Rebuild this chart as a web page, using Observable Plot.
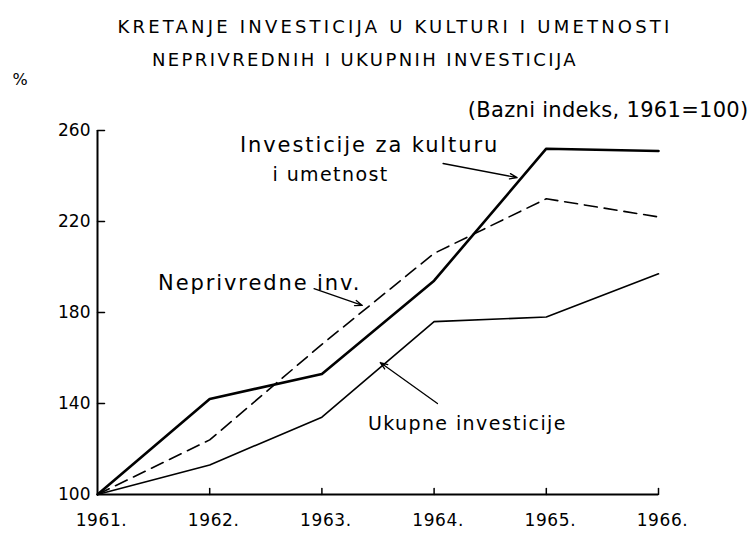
<!DOCTYPE html>
<html>
<head>
<meta charset="utf-8">
<script src="https://cdn.jsdelivr.net/npm/d3@7"></script>
<script src="https://cdn.jsdelivr.net/npm/@observablehq/plot@0.6"></script>
<style>
  html, body { margin: 0; padding: 0; background: #fff; }
  #chart svg { display: block; }
</style>
</head>
<body>
<div id="chart"></div>
<script>
// ---- data ----
const years = [1961, 1962, 1963, 1964, 1965, 1966];
const kultura = [100, 142, 153, 194, 252, 251];       // Investicije za kulturu i umetnost
const neprivredne = [100, 124, 166, 206, 230, 222];   // Neprivredne investicije
const ukupne = [100, 113, 134, 176, 178, 197];        // Ukupne investicije
const yTicks = [100, 140, 180, 220, 260];
const xTickLabels = ["1961.", "1962.", "1963.", "1964.", "1965.", "1966."];

const titleLine1 = "KRETANJE INVESTICIJA U KULTURI I UMETNOSTI";
const titleLine2 = "NEPRIVREDNIH I UKUPNIH INVESTICIJA";
const unitLabel = "%";
const baseNote = "(Bazni indeks, 1961=100)";

const labelTexts = ["Investicije za kulturu", "i umetnost", "Neprivredne inv.", "Ukupne investicije"];
const labelX = [1962.27, 1962.56, 1961.54, 1963.41];
const labelY = [253.5, 240.5, 192.7, 131.2];

const arrowX1 = [1964.08, 1962.93, 1964.03];
const arrowY1 = [245.5, 190.5, 140];
const arrowX2 = [1964.74, 1963.36, 1963.52];
const arrowY2 = [239.3, 183.1, 158];

// ---- tables ----
const rows = (vals) => years.map((yr, i) => ({year: yr, value: vals[i]}));
const labels = labelTexts.map((t, i) => ({text: t, x: labelX[i], y: labelY[i]}));
const arrows = arrowX1.map((x, i) => ({x1: x, y1: arrowY1[i], x2: arrowX2[i], y2: arrowY2[i]}));

const tickShape = { draw(context, l) { context.moveTo(0, 0); context.lineTo(0, -l); } };
const font = "'DejaVu Sans', sans-serif";

const chart = Plot.plot({
  width: 756,
  height: 535,
  marginLeft: 97,
  marginRight: 98,
  marginTop: 130,
  marginBottom: 41,
  style: { fontFamily: font, background: "#fff", color: "#000" },
  x: { type: "linear", domain: [1961, 1966] },
  y: { domain: [100, 260] },
  marks: [
    // axes lines
    Plot.ruleY([100], { stroke: "#000", strokeWidth: 2 }),
    Plot.ruleX([1961], { y1: 100, y2: 260, stroke: "#000", strokeWidth: 2 }),
    // inward ticks
    Plot.vector(years.slice(1), { x: d => d, y: 100, length: 6, anchor: "start", rotate: 0, shape: tickShape, stroke: "#000", strokeWidth: 1.5 }),
    Plot.vector(yTicks.slice(1), { x: 1961, y: d => d, length: 7, anchor: "start", rotate: 90, shape: tickShape, stroke: "#000", strokeWidth: 1.5 }),
    // axis labels
    Plot.axisY({ ticks: yTicks, tickSize: 0, tickPadding: 7, fontSize: 17, label: null }),
    Plot.axisX({ ticks: years, tickSize: 0, tickPadding: 19, fontSize: 17, dx: 4, label: null,
      tickFormat: (d) => xTickLabels[years.indexOf(d)] }),
    // series
    Plot.line(rows(ukupne), { x: "year", y: "value", stroke: "#000", strokeWidth: 1.6 }),
    Plot.line(rows(neprivredne), { x: "year", y: "value", stroke: "#000", strokeWidth: 1.6, strokeDasharray: "13,7" }),
    Plot.line(rows(kultura), { x: "year", y: "value", stroke: "#000", strokeWidth: 2.6 }),
    // annotations
    Plot.text(labels, { filter: (d, i) => i === 0 || i === 2, x: "x", y: "y", text: "text", textAnchor: "start", fontSize: 21, fill: "#000" }),
    Plot.text(labels, { filter: (d, i) => i === 1 || i === 3, x: "x", y: "y", text: "text", textAnchor: "start", fontSize: 19, fill: "#000" }),
    Plot.arrow(arrows, { x1: "x1", y1: "y1", x2: "x2", y2: "y2", stroke: "#000", strokeWidth: 1.3, headLength: 9, headAngle: 40 }),
    // titles
    Plot.text([titleLine1], { frameAnchor: "top", dx: 17, dy: -110, fontSize: 18, fill: "#000" }),
    Plot.text([titleLine2], { frameAnchor: "top", dx: -13, dy: -77, fontSize: 18, fill: "#000" }),
    Plot.text([unitLabel], { frameAnchor: "top-left", textAnchor: "start", dx: -85, dy: -57, fontSize: 16, fill: "#000" }),
    Plot.text([baseNote], { frameAnchor: "top-right", textAnchor: "end", dx: 90, dy: -28, fontSize: 21, fill: "#000" })
  ]
});

// letter spacing (not a Plot text option) applied via CSS, matched by text content
const spacing = new Map([
  [titleLine1, 3.2], [titleLine2, 2.4],
  [labelTexts[0], 1.9], [labelTexts[2], 1.9],
  [labelTexts[1], 1.4], [labelTexts[3], 1.4],
  [baseNote, 0.3]
]);
xTickLabels.forEach(t => spacing.set(t, 0.6));
d3.select(chart).selectAll("text").each(function () {
  const s = spacing.get(this.textContent);
  if (s != null) this.style.letterSpacing = s + "px";
});

document.getElementById("chart").append(chart);
</script>
</body>
</html>
